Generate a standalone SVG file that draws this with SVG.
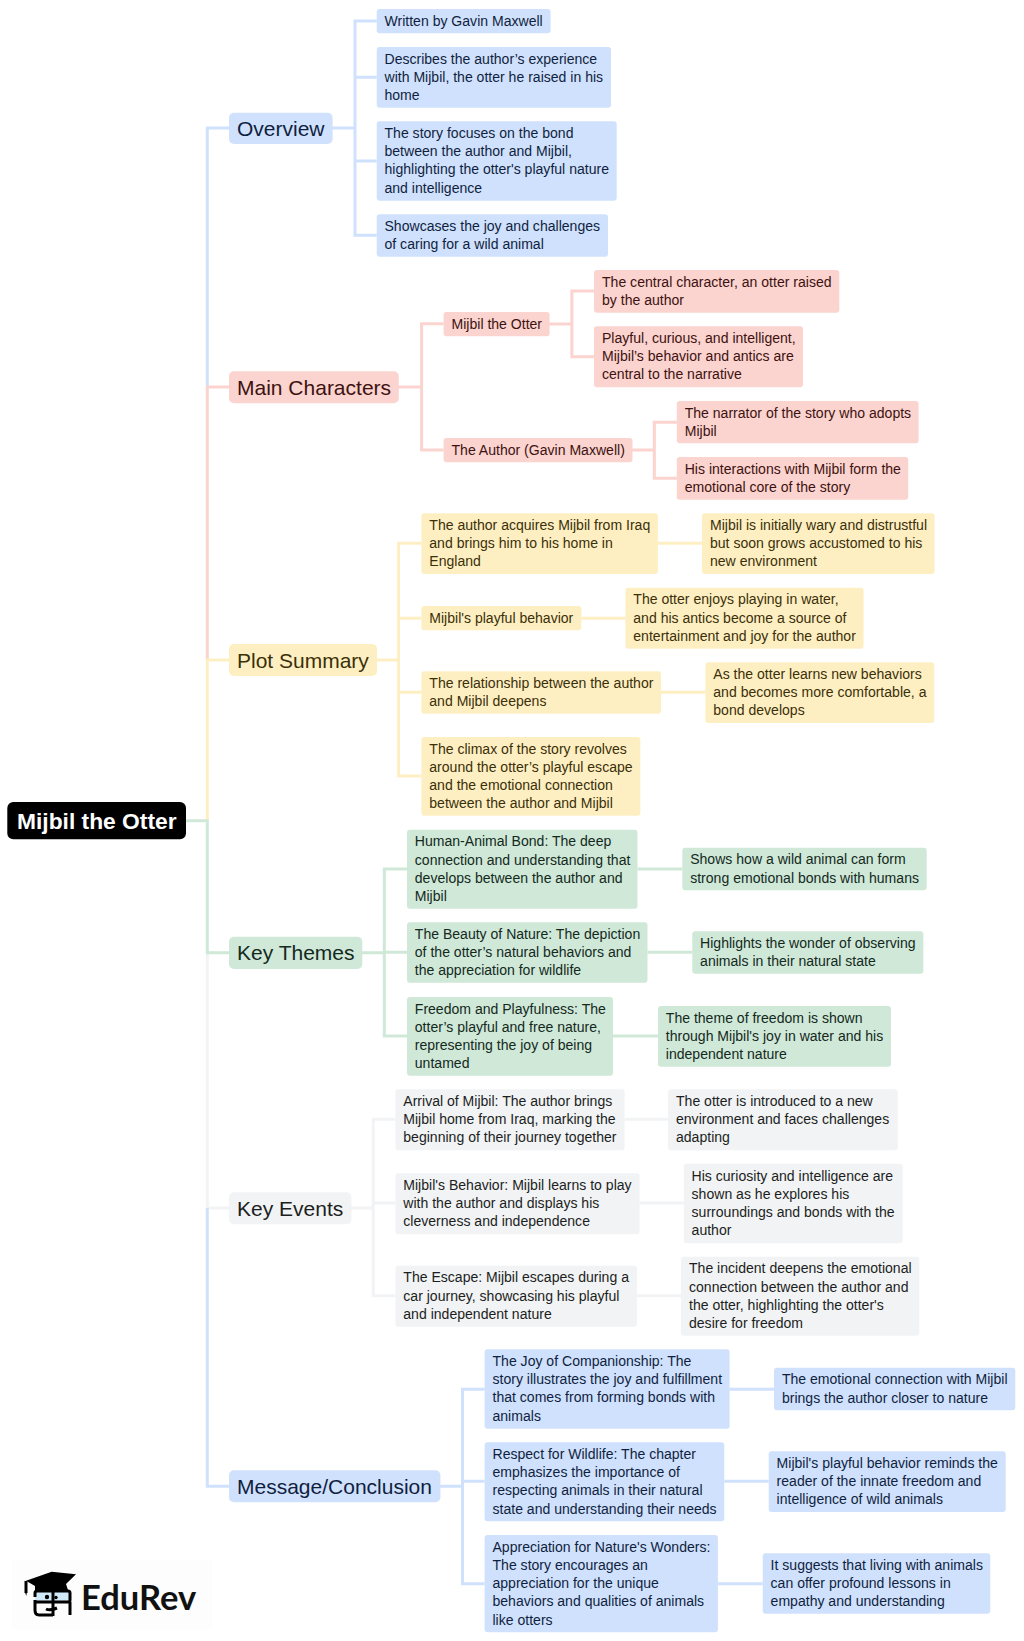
<svg xmlns="http://www.w3.org/2000/svg" width="1024" height="1641" viewBox="0 0 1024 1641">
<style>
text{font-family:"Liberation Sans",Arial,sans-serif;font-size:14.050px;transform:translateY(-.3px)}
text.h{font-size:21px}
text.root{font-size:22.800px;font-weight:700;fill:#fff}
.bl rect{fill:#d0e1fd}.bl text{fill:#0f1f3d}
.rd rect{fill:#fbd3cf}.rd text{fill:#3d1210}
.yl rect{fill:#feefc3}.yl text{fill:#3b2f08}
.gr rect{fill:#cfe8d8}.gr text{fill:#14291c}
.nt rect{fill:#f1f3f5}.nt text{fill:#1c1e21}
.rt rect{fill:#000}
path{fill:none;stroke-width:3}
.cb{stroke:#d0e1fd}.cr{stroke:#fbd3cf}.cy{stroke:#feefc3}.cg{stroke:#cfe8d8}.cn{stroke:#f1f3f5}
</style>
<g id="connectors">
<path class="cb" d="M229 128H207.3V387M272 128H355M376.7 21H355V235.300H376.700M355 77.300H376.700M355 161H376.700"/>
<path class="cr" d="M229 387H207.300V660M398 387H421.600M443.600 323.700H421.600V450H443.600M549 324H571.900M594 291H571.900V356.700H594M632 450H654.300M676.800 422.300H654.300V478.300H676.800"/>
<path class="cy" d="M229 660H207.300V820.700M377 660H398.600M421.400 543.300H398.600V776H421.400M398.600 618.300H421.400M398.600 692.300H421.400M657.900 543.300H702M581.400 618.300H625.400M661 692.300H705.400"/>
<path class="cn" d="M229 1208H207.300V952.700M351 1208H373.200M395.400 1119.300H373.200V1295.700H395.400M373.200 1203H395.400M624.600 1119.300H668M639.600 1203H683.700M637 1295.700H681"/>
<path class="cb" d="M229 1486.300H207.300V1208M440 1486.300H462.500M484.600 1389.300H462.500V1583.700H484.600M462.500 1481.300H484.600M729.600 1389.300H774M724.300 1481.300H768.700M717.900 1583.700H762.700"/>
<path class="cg" d="M186 820.700H207.300V952.700H229M362 952.700H384.300M407 869H384.300V1036H407M384.300 952.300H407M637.500 869H682.300M647.500 952.300H692.300M613 1036H658"/>
</g>
<g id="root" class="rt"><rect x="7.300" y="802" width="178.700" height="37.300" rx="6"/><text class="root" x="17" y="829">Mijbil the Otter</text></g>

<g id="overview" class="bl"><rect x="229" y="112.700" width="103.600" height="31.300" rx="5"/><text class="h" x="237" y="136">Overview</text></g>
<g id="ov1" class="bl"><rect x="376.700" y="9" width="173.900" height="24.300" rx="3"/><text x="384.500" y="26">Written by Gavin Maxwell</text></g>
<g id="ov2" class="bl"><rect x="376.700" y="47" width="234.300" height="60.700" rx="3"/><text x="384.500" y="64"><tspan x="384.500">Describes the author’s experience</tspan><tspan x="384.500" dy="18.250">with Mijbil, the otter he raised in his</tspan><tspan x="384.500" dy="18.250">home</tspan></text></g>
<g id="ov3" class="bl"><rect x="376.700" y="121.300" width="240" height="79.400" rx="3"/><text x="384.500" y="138.300"><tspan x="384.500">The story focuses on the bond</tspan><tspan x="384.500" dy="18.250">between the author and Mijbil,</tspan><tspan x="384.500" dy="18.250">highlighting the otter's playful nature</tspan><tspan x="384.500" dy="18.250">and intelligence</tspan></text></g>
<g id="ov4" class="bl"><rect x="376.700" y="214.300" width="231.300" height="42.400" rx="3"/><text x="384.500" y="231.300"><tspan x="384.500">Showcases the joy and challenges</tspan><tspan x="384.500" dy="18.250">of caring for a wild animal</tspan></text></g>

<g id="characters" class="rd"><rect x="229" y="371.300" width="169.800" height="32" rx="5"/><text class="h" x="237" y="395">Main Characters</text></g>
<g id="ch1" class="rd"><rect x="443.600" y="312" width="106" height="24.300" rx="3"/><text x="451.500" y="329">Mijbil the Otter</text></g>
<g id="ch2" class="rd"><rect x="443.600" y="438" width="188.900" height="24.300" rx="3"/><text x="451.500" y="455">The Author (Gavin Maxwell)</text></g>
<g id="ch1a" class="rd"><rect x="594" y="270" width="245.300" height="42.700" rx="3"/><text x="602" y="287"><tspan x="602">The central character, an otter raised</tspan><tspan x="602" dy="18.250">by the author</tspan></text></g>
<g id="ch1b" class="rd"><rect x="594" y="326.300" width="209" height="61" rx="3"/><text x="602" y="343.300"><tspan x="602">Playful, curious, and intelligent,</tspan><tspan x="602" dy="18.250">Mijbil’s behavior and antics are</tspan><tspan x="602" dy="18.250">central to the narrative</tspan></text></g>
<g id="ch2a" class="rd"><rect x="676.800" y="401" width="241.800" height="42.300" rx="3"/><text x="684.700" y="418"><tspan x="684.700">The narrator of the story who adopts</tspan><tspan x="684.700" dy="18.250">Mijbil</tspan></text></g>
<g id="ch2b" class="rd"><rect x="676.800" y="457" width="231.400" height="42.700" rx="3"/><text x="684.700" y="474"><tspan x="684.700">His interactions with Mijbil form the</tspan><tspan x="684.700" dy="18.250">emotional core of the story</tspan></text></g>

<g id="plot" class="yl"><rect x="229" y="644" width="148.100" height="32" rx="5"/><text class="h" x="237" y="668">Plot Summary</text></g>
<g id="pl1" class="yl"><rect x="421.400" y="513.300" width="236.500" height="60.700" rx="3"/><text x="429.300" y="530.300"><tspan x="429.300">The author acquires Mijbil from Iraq</tspan><tspan x="429.300" dy="18.250">and brings him to his home in</tspan><tspan x="429.300" dy="18.250">England</tspan></text></g>
<g id="pl1a" class="yl"><rect x="702" y="513.300" width="232.600" height="60.700" rx="3"/><text x="710" y="530.300"><tspan x="710">Mijbil is initially wary and distrustful</tspan><tspan x="710" dy="18.250">but soon grows accustomed to his</tspan><tspan x="710" dy="18.250">new environment</tspan></text></g>
<g id="pl2" class="yl"><rect x="421.400" y="606" width="160" height="24.300" rx="3"/><text x="429.300" y="623">Mijbil's playful behavior</text></g>
<g id="pl2a" class="yl"><rect x="625.400" y="587.700" width="238.200" height="61" rx="3"/><text x="633.300" y="604.700"><tspan x="633.300">The otter enjoys playing in water,</tspan><tspan x="633.300" dy="18.250">and his antics become a source of</tspan><tspan x="633.300" dy="18.250">entertainment and joy for the author</tspan></text></g>
<g id="pl3" class="yl"><rect x="421.400" y="671.300" width="239.600" height="42.400" rx="3"/><text x="429.300" y="688.300"><tspan x="429.300">The relationship between the author</tspan><tspan x="429.300" dy="18.250">and Mijbil deepens</tspan></text></g>
<g id="pl3a" class="yl"><rect x="705.400" y="662.300" width="228.900" height="60.700" rx="3"/><text x="713.300" y="679.300"><tspan x="713.300">As the otter learns new behaviors</tspan><tspan x="713.300" dy="18.250">and becomes more comfortable, a</tspan><tspan x="713.300" dy="18.250">bond develops</tspan></text></g>
<g id="pl4" class="yl"><rect x="421.400" y="737" width="219" height="78.700" rx="3"/><text x="429.300" y="754"><tspan x="429.300">The climax of the story revolves</tspan><tspan x="429.300" dy="18.250">around the otter’s playful escape</tspan><tspan x="429.300" dy="18.250">and the emotional connection</tspan><tspan x="429.300" dy="18.250">between the author and Mijbil</tspan></text></g>

<g id="themes" class="gr"><rect x="229" y="936.700" width="133.300" height="32.300" rx="5"/><text class="h" x="237" y="960.500">Key Themes</text></g>
<g id="th1" class="gr"><rect x="407" y="829.700" width="230.500" height="79" rx="3"/><text x="414.800" y="846.700"><tspan x="414.800">Human-Animal Bond: The deep</tspan><tspan x="414.800" dy="18.250">connection and understanding that</tspan><tspan x="414.800" dy="18.250">develops between the author and</tspan><tspan x="414.800" dy="18.250">Mijbil</tspan></text></g>
<g id="th1a" class="gr"><rect x="682.300" y="847.700" width="244.400" height="42.600" rx="3"/><text x="690.200" y="864.700"><tspan x="690.200">Shows how a wild animal can form</tspan><tspan x="690.200" dy="18.250">strong emotional bonds with humans</tspan></text></g>
<g id="th2" class="gr"><rect x="407" y="922.300" width="240.500" height="60.400" rx="3"/><text x="414.800" y="939.300"><tspan x="414.800">The Beauty of Nature: The depiction</tspan><tspan x="414.800" dy="18.250">of the otter’s natural behaviors and</tspan><tspan x="414.800" dy="18.250">the appreciation for wildlife</tspan></text></g>
<g id="th2a" class="gr"><rect x="692.300" y="931.300" width="231" height="42.400" rx="3"/><text x="700.100" y="948.300"><tspan x="700.100">Highlights the wonder of observing</tspan><tspan x="700.100" dy="18.250">animals in their natural state</tspan></text></g>
<g id="th3" class="gr"><rect x="407" y="997" width="206" height="78.700" rx="3"/><text x="414.800" y="1014"><tspan x="414.800">Freedom and Playfulness: The</tspan><tspan x="414.800" dy="18.250">otter’s playful and free nature,</tspan><tspan x="414.800" dy="18.250">representing the joy of being</tspan><tspan x="414.800" dy="18.250">untamed</tspan></text></g>
<g id="th3a" class="gr"><rect x="658" y="1006" width="233" height="60.700" rx="3"/><text x="665.800" y="1023"><tspan x="665.800">The theme of freedom is shown</tspan><tspan x="665.800" dy="18.250">through Mijbil's joy in water and his</tspan><tspan x="665.800" dy="18.250">independent nature</tspan></text></g>

<g id="events" class="nt"><rect x="229" y="1192.300" width="122.400" height="32" rx="5"/><text class="h" x="237" y="1216">Key Events</text></g>
<g id="ev1" class="nt"><rect x="395.400" y="1089.300" width="229.200" height="61" rx="3"/><text x="403.300" y="1106.300"><tspan x="403.300">Arrival of Mijbil: The author brings</tspan><tspan x="403.300" dy="18.250">Mijbil home from Iraq, marking the</tspan><tspan x="403.300" dy="18.250">beginning of their journey together</tspan></text></g>
<g id="ev1a" class="nt"><rect x="668" y="1089.300" width="229.700" height="61" rx="3"/><text x="676" y="1106.300"><tspan x="676">The otter is introduced to a new</tspan><tspan x="676" dy="18.250">environment and faces challenges</tspan><tspan x="676" dy="18.250">adapting</tspan></text></g>
<g id="ev2" class="nt"><rect x="395.400" y="1173.300" width="244.200" height="61" rx="3"/><text x="403.300" y="1190.300"><tspan x="403.300">Mijbil's Behavior: Mijbil learns to play</tspan><tspan x="403.300" dy="18.250">with the author and displays his</tspan><tspan x="403.300" dy="18.250">cleverness and independence</tspan></text></g>
<g id="ev2a" class="nt"><rect x="683.700" y="1163.700" width="219" height="79.600" rx="3"/><text x="691.600" y="1181"><tspan x="691.600">His curiosity and intelligence are</tspan><tspan x="691.600" dy="18.250">shown as he explores his</tspan><tspan x="691.600" dy="18.250">surroundings and bonds with the</tspan><tspan x="691.600" dy="18.250">author</tspan></text></g>
<g id="ev3" class="nt"><rect x="395.400" y="1265.700" width="241.600" height="61" rx="3"/><text x="403.300" y="1282.700"><tspan x="403.300">The Escape: Mijbil escapes during a</tspan><tspan x="403.300" dy="18.250">car journey, showcasing his playful</tspan><tspan x="403.300" dy="18.250">and independent nature</tspan></text></g>
<g id="ev3a" class="nt"><rect x="681" y="1256.700" width="238.300" height="79" rx="3"/><text x="689" y="1273.700"><tspan x="689">The incident deepens the emotional</tspan><tspan x="689" dy="18.250">connection between the author and</tspan><tspan x="689" dy="18.250">the otter, highlighting the otter's</tspan><tspan x="689" dy="18.250">desire for freedom</tspan></text></g>

<g id="message" class="bl"><rect x="229" y="1470.300" width="211.400" height="32" rx="5"/><text class="h" x="237" y="1494">Message/Conclusion</text></g>
<g id="ms1" class="bl"><rect x="484.600" y="1349.300" width="245" height="79.400" rx="3"/><text x="492.500" y="1366.300"><tspan x="492.500">The Joy of Companionship: The</tspan><tspan x="492.500" dy="18.250">story illustrates the joy and fulfillment</tspan><tspan x="492.500" dy="18.250">that comes from forming bonds with</tspan><tspan x="492.500" dy="18.250">animals</tspan></text></g>
<g id="ms1a" class="bl"><rect x="774" y="1367.700" width="241.300" height="42.600" rx="3"/><text x="781.900" y="1384.700"><tspan x="781.900">The emotional connection with Mijbil</tspan><tspan x="781.900" dy="18.250">brings the author closer to nature</tspan></text></g>
<g id="ms2" class="bl"><rect x="484.600" y="1442.300" width="239.700" height="79" rx="3"/><text x="492.500" y="1459.300"><tspan x="492.500">Respect for Wildlife: The chapter</tspan><tspan x="492.500" dy="18.250">emphasizes the importance of</tspan><tspan x="492.500" dy="18.250">respecting animals in their natural</tspan><tspan x="492.500" dy="18.250">state and understanding their needs</tspan></text></g>
<g id="ms2a" class="bl"><rect x="768.700" y="1451.300" width="237" height="60.700" rx="3"/><text x="776.600" y="1468.300"><tspan x="776.600">Mijbil's playful behavior reminds the</tspan><tspan x="776.600" dy="18.250">reader of the innate freedom and</tspan><tspan x="776.600" dy="18.250">intelligence of wild animals</tspan></text></g>
<g id="ms3" class="bl"><rect x="484.600" y="1535" width="233.300" height="97.300" rx="3"/><text x="492.500" y="1552"><tspan x="492.500">Appreciation for Nature's Wonders:</tspan><tspan x="492.500" dy="18.250">The story encourages an</tspan><tspan x="492.500" dy="18.250">appreciation for the unique</tspan><tspan x="492.500" dy="18.250">behaviors and qualities of animals</tspan><tspan x="492.500" dy="18.250">like otters</tspan></text></g>
<g id="ms3a" class="bl"><rect x="762.700" y="1553.300" width="227.600" height="60.400" rx="3"/><text x="770.600" y="1570.300"><tspan x="770.600">It suggests that living with animals</tspan><tspan x="770.600" dy="18.250">can offer profound lessons in</tspan><tspan x="770.600" dy="18.250">empathy and understanding</tspan></text></g>

<g id="logo">
<rect x="12" y="1560" width="200" height="70" fill="#fdfdfd"/>
<rect x="35" y="1592" width="35" height="9" rx="2" fill="#cfe9f8"/>
<path d="M35 1597V1593Q35 1591 37 1591H68Q70 1591 70 1593V1600Q70 1602 68 1602H37Q35 1602 35 1600V1610Q35 1615 39 1615H53M53 1590V1616M70 1602V1615" stroke="#000" stroke-width="1"/>
<path d="M46 1609Q50 1611 57 1608" stroke="#000" stroke-width=".8"/>
<circle cx="47" cy="1597" r="2.200" fill="#000"/><circle cx="56" cy="1597.500" r="1.700" fill="#000"/>
<polygon points="26,1580.700 51.700,1571.700 76,1574.300 66,1584 68,1590 35,1590 35,1586" fill="#000"/>
<path d="M26 1581V1593" stroke="#000" stroke-width="1"/>
<polygon points="25,1592 27,1592 26.200,1596" fill="#000"/>
<text x="81" y="1610.500" style="font-family:Lato,'Open Sans',sans-serif;font-size:34.500px;font-weight:700;fill:#111">EduRev</text>
</g>
</svg>
